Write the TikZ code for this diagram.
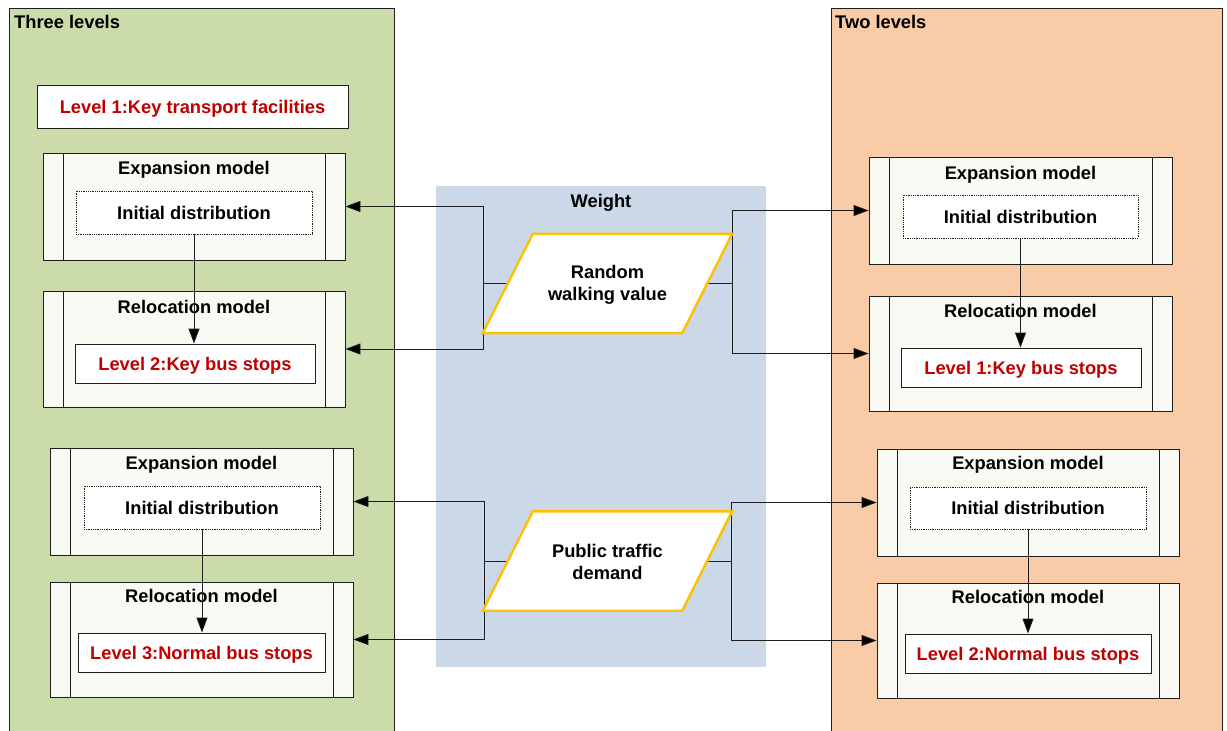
\documentclass[tikz,border=0pt]{standalone}
\usepackage{fontspec}
\setmainfont{Liberation Sans}
\usetikzlibrary{arrows.meta,calc}

\definecolor{panelgreen}{RGB}{204,219,170}
\definecolor{panelorange}{RGB}{249,203,167}
\definecolor{weightblue}{RGB}{202,216,232}
\definecolor{procfill}{RGB}{250,250,245}
\definecolor{levelred}{RGB}{192,0,0}
\definecolor{paraline}{RGB}{255,192,0}
\definecolor{edgegray}{RGB}{30,30,30}

\begin{document}
\begin{tikzpicture}[x=1pt,y=-1pt,
  every node/.style={font=\fontsize{18.3}{22}\selectfont\bfseries, inner sep=0pt},
  txt/.style={text height=13.1pt, text depth=0pt},
  panel/.style={draw=edgegray, line width=1pt},
  procbox/.style={draw=edgegray, fill=procfill, line width=0.9pt,
    path picture={
      \draw[edgegray, line width=0.9pt]
        ([xshift=20pt]path picture bounding box.north west) --
        ([xshift=20pt]path picture bounding box.south west)
        ([xshift=-20pt]path picture bounding box.north east) --
        ([xshift=-20pt]path picture bounding box.south east);
    }},
  initbox/.style={draw=edgegray, densely dotted, fill=white, line width=0.8pt, txt},
  levelbox/.style={draw=edgegray, fill=white, line width=0.9pt, text=levelred, txt},
  paranode/.style={minimum width=199pt, minimum height=99pt},
  para/.style={draw=paraline, fill=white, line width=2.4pt, line join=miter},
  paratext/.style={align=center},
  conn/.style={draw=edgegray, line width=0.9pt},
  arrowconn/.style={conn, -{Triangle[length=15pt,width=11pt,fill=black]}}
]
\useasboundingbox (0,0) rectangle (1227,731);
\clip (0,0) rectangle (1227,731);
\fill[white] (0,0) rectangle (1227,731);

% side panels
\filldraw[panel, fill=panelgreen] (9,8) rectangle (394,745);
\filldraw[panel, fill=panelorange] (831,8) rectangle (1222,745);
\node[txt, anchor=west] (three) at (14,22) {Three levels};
\node[txt, anchor=west] (two) at (835,22) {Two levels};

% weight band
\fill[weightblue] (436,186) rectangle (766,667);
\node[txt] (weight) at (601,201) {Weight};

% three levels
\node[levelbox, minimum width=311pt, minimum height=43pt] (lv1) at (192.5,106.5) {Level 1:Key transport facilities};

\node[procbox, minimum width=302pt, minimum height=107pt] (e1) at (194,206.5) {};
\node[txt] (e1t) at (194,168) {Expansion model};
\node[initbox, minimum width=236pt, minimum height=43pt] (i1) at (194,212.5) {Initial distribution};
\node[procbox, minimum width=302pt, minimum height=116pt] (r1) at (194,349) {};
\node[txt] (r1t) at (194,307) {Relocation model};
\node[levelbox, minimum width=240pt, minimum height=39pt] (l2) at (195,363.5) {Level 2:Key bus stops};

\node[procbox, minimum width=303pt, minimum height=107pt] (e2) at (201.5,501.5) {};
\node[txt] (e2t) at (201.5,463) {Expansion model};
\node[initbox, minimum width=236pt, minimum height=43pt] (i2) at (202,507.5) {Initial distribution};
\node[procbox, minimum width=303pt, minimum height=115pt] (r2) at (201.5,639.5) {};
\node[txt] (r2t) at (201.5,596) {Relocation model};
\node[levelbox, minimum width=247pt, minimum height=39pt] (l3) at (201.5,652.5) {Level 3:Normal bus stops};

% two levels
\node[procbox, minimum width=303pt, minimum height=107pt] (e3) at (1020.5,210.5) {};
\node[txt] (e3t) at (1020.5,173) {Expansion model};
\node[initbox, minimum width=235pt, minimum height=43pt] (i3) at (1020.5,216.5) {Initial distribution};
\node[procbox, minimum width=303pt, minimum height=115pt] (r3) at (1020.5,353.5) {};
\node[txt] (r3t) at (1020.5,311) {Relocation model};
\node[levelbox, minimum width=240pt, minimum height=39pt] (l4) at (1021,367.5) {Level 1:Key bus stops};

\node[procbox, minimum width=302pt, minimum height=107pt] (e4) at (1028,502.5) {};
\node[txt] (e4t) at (1028,463) {Expansion model};
\node[initbox, minimum width=236pt, minimum height=42pt] (i4) at (1028,508) {Initial distribution};
\node[procbox, minimum width=302pt, minimum height=115pt] (r4) at (1028,640.5) {};
\node[txt] (r4t) at (1028,597) {Relocation model};
\node[levelbox, minimum width=246pt, minimum height=39pt] (l5) at (1028,653.5) {Level 2:Normal bus stops};

% arrows inside each model pair
\draw[arrowconn] (i1.south) -- (i1.south |- l2.north);
\draw[arrowconn] (i2.south) -- (i2.south |- l3.north);
\draw[arrowconn] (i3.south) -- (i3.south |- l4.north);
\draw[arrowconn] (i4.south) -- (i4.south |- l5.north);

% weight inputs
\path node[paranode] (p1) at (607.5,283.5) {};
\path node[paranode] (p2) at (607.5,561) {};

\coordinate (jl1) at (483,283.5);
\coordinate (jr1) at (732,283.5);
\coordinate (jl2) at (484,561);
\coordinate (jr2) at (731,561);

\draw[conn] (p1.west) -- (jl1);
\draw[arrowconn] (jl1) |- (e1.east);
\draw[arrowconn] (jl1) |- (r1.east);
\draw[conn] (p1.east) -- (jr1);
\draw[arrowconn] (jr1) |- (e3.west);
\draw[arrowconn] (jr1) |- (r3.west);

\draw[conn] (p2.west) -- (jl2);
\draw[arrowconn] (jl2) |- (e2.east);
\draw[arrowconn] (jl2) |- (r2.east);
\draw[conn] (p2.east) -- (jr2);
\draw[arrowconn] (jr2) |- (e4.west);
\draw[arrowconn] (jr2) |- (r4.west);

\filldraw[para] ($(p1.south west)+(-25,0)$) -- ($(p1.north west)+(25,0)$) --
  ($(p1.north east)+(25,0)$) -- ($(p1.south east)+(-25,0)$) -- cycle;
\filldraw[para] ($(p2.south west)+(-25,0)$) -- ($(p2.north west)+(25,0)$) --
  ($(p2.north east)+(25,0)$) -- ($(p2.south east)+(-25,0)$) -- cycle;
\node[paratext] (p1t) at ([yshift=-1pt]p1.center) {Random\\walking value};
\node[paratext] (p2t) at ([yshift=-1pt]p2.center) {Public traffic\\demand};
\end{tikzpicture}
\end{document}
